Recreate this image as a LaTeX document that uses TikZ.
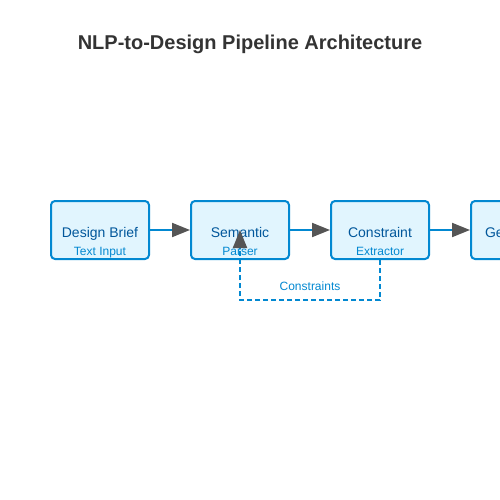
\documentclass[tikz,border=0pt]{standalone}
\usepackage{fontspec}
\setmainfont{Liberation Sans}
\usetikzlibrary{arrows.meta,positioning}
\definecolor{boxfill}{HTML}{E1F5FE}
\definecolor{boxline}{HTML}{0288D1}
\definecolor{boxtext}{HTML}{01579B}
\definecolor{headgray}{HTML}{555555}
\definecolor{titlegray}{HTML}{333333}
\begin{document}
\begin{tikzpicture}[x=1pt,y=-1pt,line width=2pt,
  stage/.style={draw=boxline,fill=boxfill,rounded corners=4pt,minimum width=98pt,minimum height=58pt,inner sep=0pt},
  stagetitle/.style={font={\fontsize{14}{16}\selectfont},text=boxtext,inner sep=0pt,anchor=base},
  stagesub/.style={font={\fontsize{12}{14}\selectfont},text=boxline,inner sep=0pt,anchor=base},
  flow/.style={draw=boxline,-{Triangle[length=18pt,width=14pt,color=headgray]}},
  feedback/.style={flow,dash pattern=on 5pt off 3pt}]
\useasboundingbox (0,0) rectangle (500,500);
\clip (0,0) rectangle (500,500);
% title
\node[font={\fontsize{20}{24}\selectfont\bfseries},text=titlegray] (title) at (250,44) {NLP-to-Design Pipeline Architecture};

% stages
\node[stage] (brief) at (100,230) {};
\node[stage,right=40pt of brief] (parser) {};
\node[stage,right=40pt of parser] (extractor) {};
\node[stage,right=40pt of extractor] (generator) {};

\node[stagetitle] (briefname) at ([yshift=-7pt]brief.center) {Design Brief};
\node[stagesub] (briefsub) at ([yshift=5pt]brief.south) {Text Input};
\node[stagetitle] (parsername) at ([yshift=-7pt]parser.center) {Semantic};
\node[stagesub] (parsersub) at ([yshift=5pt]parser.south) {Parser};
\node[stagetitle] (extractorname) at ([yshift=-7pt]extractor.center) {Constraint};
\node[stagesub] (extractorsub) at ([yshift=5pt]extractor.south) {Extractor};
\node[stagetitle,anchor=base west] (generatorname) at ([xshift=14pt,yshift=-7pt]generator.west) {Ge};

% connectors
\draw[flow] (brief) -- (parser);
\draw[flow] (parser) -- (extractor);
\draw[flow] (extractor) -- (generator);

% feedback loop
\draw[feedback] (extractor.south) -- ++(0,40) coordinate (loopcorner) -| node[pos=0.25,above=8pt,stagesub,anchor=south] (looplabel) {Constraints} (parser.center);
\end{tikzpicture}
\end{document}
